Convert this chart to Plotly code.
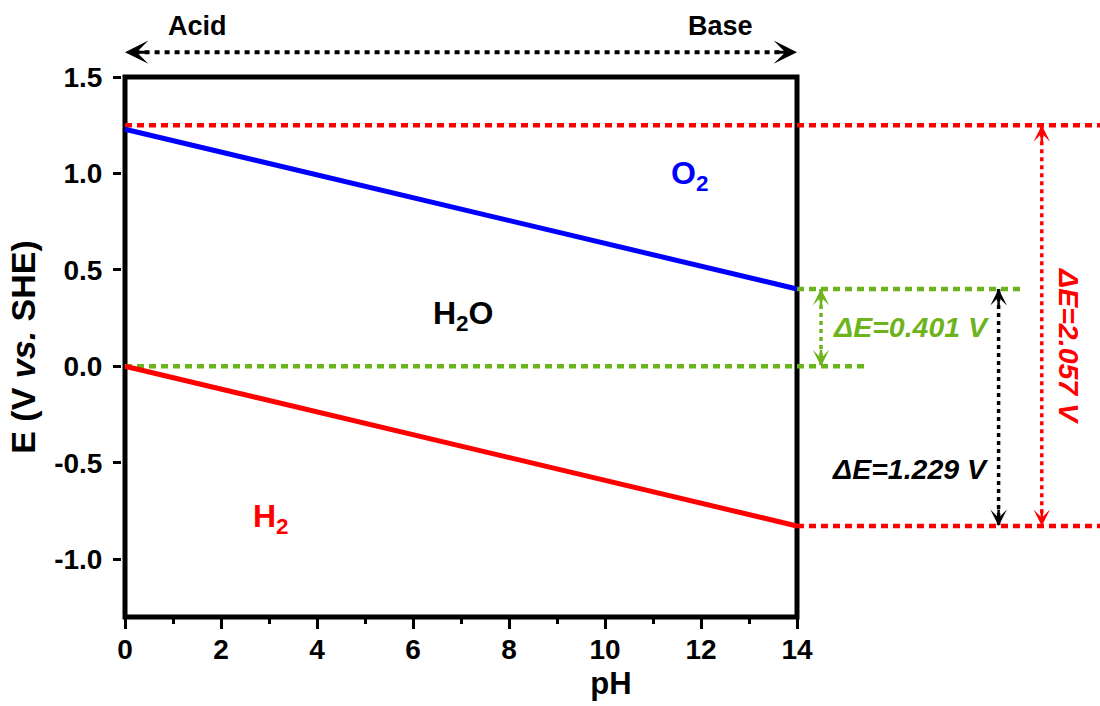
import plotly.graph_objects as go

# ---- data ----
ph_ends = [0, 14]
o2_E = [1.229, 0.401]          # O2/H2O line
h2_E = [0.0, -0.828]           # H+/H2 line

x_ticks = [0, 2, 4, 6, 8, 10, 12, 14]
x_minor = [1, 3, 5, 7, 9, 11, 13]
y_ticks = [-1.0, -0.5, 0.0, 0.5, 1.0, 1.5]
y_ticktext = ["-1.0", "-0.5", "0.0", "0.5", "1.0", "1.5"]

red_top_ph = [0, 20.4]
red_top_E = [1.25, 1.25]
red_bot_ph = [14, 20.4]
red_bot_E = [-0.828, -0.828]
green_top_ph = [14, 18.7]
green_top_E = [0.401, 0.401]
green_bot_ph = [0, 15.5]
green_bot_E = [0.0, 0.0]

green_arrow_ph = 14.5
green_arrow_E = [0.401, 0.0]
black_arrow_ph = 18.2
black_arrow_E = [0.401, -0.828]
red_arrow_ph = 19.1
red_arrow_E = [1.25, -0.828]

BLUE = "#0000FF"
RED = "#FF0000"
GREEN = "#6DB31B"
BLACK = "#000000"
FONT = "Liberation Sans, Arial, sans-serif"

fig = go.Figure()

def line(x, y, color, width, dash=None):
    fig.add_trace(go.Scatter(x=x, y=y, mode="lines", hoverinfo="skip",
                             line=dict(color=color, width=width, dash=dash)))

dot_h = "7px,5px"
dot_v = "4px,4px"
line(red_top_ph, red_top_E, RED, 4.5, dot_h)
line(red_bot_ph, red_bot_E, RED, 4.5, dot_h)
line(green_top_ph, green_top_E, GREEN, 4.5, dot_h)
line(green_bot_ph, green_bot_E, GREEN, 4.5, dot_h)
line(ph_ends, o2_E, BLUE, 5)
line(ph_ends, h2_E, RED, 5)
line([green_arrow_ph] * 2, green_arrow_E, GREEN, 3.5, dot_v)
line([black_arrow_ph] * 2, black_arrow_E, BLACK, 3.5, dot_v)
line([red_arrow_ph] * 2, red_arrow_E, RED, 3.5, dot_v)

annotations = []

def head(x, y, ax, ay, color, yref="y", width=2.5, size=1.1):
    annotations.append(dict(x=x, y=y, xref="x", yref=yref, ax=ax, ay=ay,
                            text="", showarrow=True, arrowhead=3,
                            arrowwidth=width, arrowsize=size, arrowcolor=color,
                            standoff=0))

# vertical double arrows
for ph, (e1, e2), c in [(green_arrow_ph, green_arrow_E, GREEN),
                         (black_arrow_ph, black_arrow_E, BLACK),
                         (red_arrow_ph, red_arrow_E, RED)]:
    head(ph, e1, 0, 18, c)
    head(ph, e2, 0, -18, c)

# Acid / Base arrow above the frame
top_y = 1.046
head(ph_ends[0], top_y, 24, 0, BLACK, yref="y domain", width=3, size=1.3)
head(ph_ends[1], top_y, -24, 0, BLACK, yref="y domain", width=3, size=1.3)

def text(x, y, s, color, size=28, yref="y", angle=0):
    annotations.append(dict(x=x, y=y, xref="x", yref=yref, text=s,
                            showarrow=False, textangle=angle,
                            xanchor="center", yanchor="middle",
                            font=dict(family=FONT, size=size, color=color,
                                      weight="bold")))

text(1.5, 1.094, "Acid", BLACK, 27, yref="y domain")
text(12.4, 1.094, "Base", BLACK, 27, yref="y domain")
text(11.75, 0.99, "O<sub>2</sub>", BLUE, 32)
text(7.05, 0.265, "H<sub>2</sub>O", BLACK, 32)
text(3.04, -0.79, "H<sub>2</sub>", RED, 32)
text(16.37, 0.205, "<i>ΔE=0.401 V</i>", GREEN, 28.5)
text(16.36, -0.534, "<i>ΔE=1.229 V</i>", BLACK, 28.5)
text(19.67, 0.104, "<i>ΔE=2.057 V</i>", RED, 28.5, angle=90)

shapes = [
    dict(type="rect", xref="x", yref="y domain", x0=ph_ends[0], x1=ph_ends[1],
         y0=0, y1=1, line=dict(color=BLACK, width=5), layer="below"),
    dict(type="line", xref="x", yref="y domain", x0=ph_ends[0] + 0.2,
         x1=ph_ends[1] - 0.2, y0=top_y, y1=top_y,
         line=dict(color=BLACK, width=4, dash="5px,5px")),
]

fig.update_layout(
    width=1100, height=706,
    margin=dict(l=122, r=0, t=77, b=89),
    paper_bgcolor="white", plot_bgcolor="white",
    showlegend=False,
    font=dict(family=FONT, size=28, color=BLACK),
    annotations=annotations,
    shapes=shapes,
    xaxis=dict(
        range=[-0.0625, 20.3125], tickvals=x_ticks,
        ticks="outside", ticklen=11, tickwidth=3, tickcolor=BLACK,
        showgrid=False, zeroline=False, showline=False,
        ticklabelstandoff=-4,
        tickfont=dict(family=FONT, size=28, color=BLACK, weight="bold"),
        minor=dict(tickvals=x_minor, ticks="outside", ticklen=6,
                   tickwidth=3, tickcolor=BLACK, showgrid=False),
        title=dict(text="pH", standoff=8,
                   font=dict(family=FONT, size=31, color=BLACK, weight="bold")),
    ),
    yaxis=dict(
        range=[-1.3, 1.5], tickvals=y_ticks, ticktext=y_ticktext,
        ticks="outside", ticklen=8, tickwidth=3, tickcolor=BLACK,
        showgrid=False, zeroline=False, showline=False,
        ticklabelstandoff=5,
        tickfont=dict(family=FONT, size=28, color=BLACK, weight="bold"),
        title=dict(text="E (V <i>vs.</i> SHE)", standoff=8,
                   font=dict(family=FONT, size=34, color=BLACK, weight="bold")),
    ),
)

fig.write_html("out.html")
